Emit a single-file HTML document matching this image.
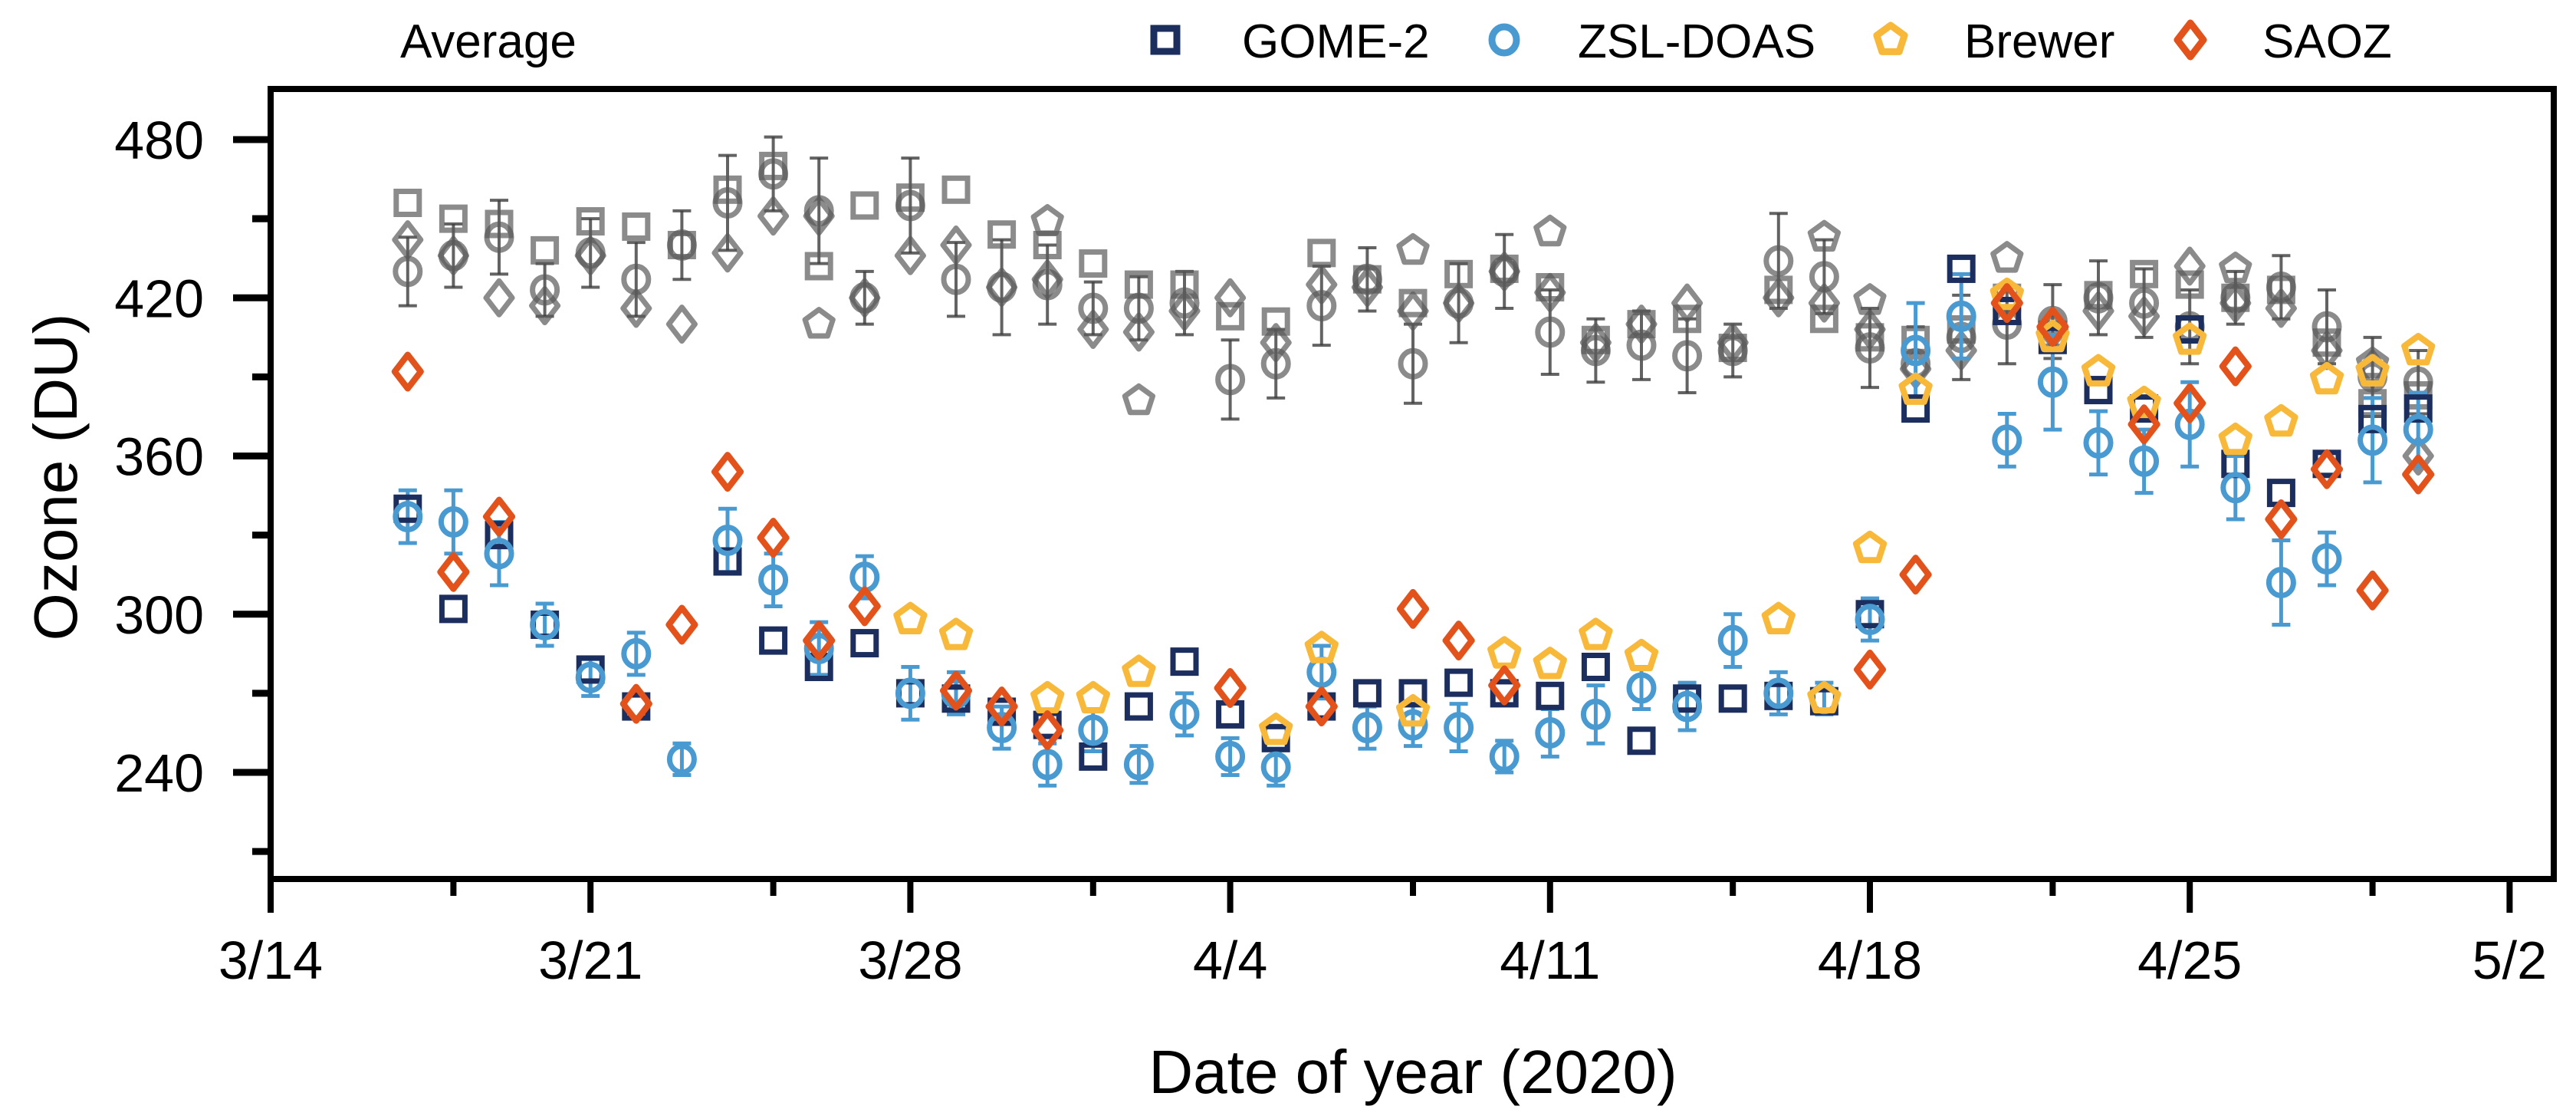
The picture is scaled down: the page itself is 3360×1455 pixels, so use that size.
<!DOCTYPE html>
<html><head><meta charset="utf-8"><style>
html,body{margin:0;padding:0;background:#fff;}
svg{display:block;font-family:"Liberation Sans",Arial,sans-serif;}
</style></head><body>
<svg id="chart" width="3360" height="1455" viewBox="0 0 3360 1455" xmlns="http://www.w3.org/2000/svg">
<rect x="0" y="0" width="3360" height="1455" fill="#fff"/>
<g id="axes"></g>
<g id="avg"></g>
<g id="marks"></g>
<rect x="353" y="116" width="2978" height="1030" fill="none" stroke="#000" stroke-width="8"/>
<text x="522" y="75" font-size="62">Average</text>
<g id="legend"></g>
<text x="1843" y="1425" font-size="80" text-anchor="middle">Date of year (2020)</text>
<text x="0" y="0" font-size="80" text-anchor="middle" transform="translate(100,622) rotate(-90)">Ozone (DU)</text>
</svg>
<script>
// ---- data ----
const xTickLabels = ["3/14","3/21","3/28","4/4","4/11","4/18","4/25","5/2"];
const yTickValues = [240,300,360,420,480];
const gomeDays = [3,4,5,6,7,8,10,11,12,13,14,15,16,17,18,19,20,21,22,23,24,25,26,27,28,29,30,31,32,33,34,35,36,37,38,39,40,41,42,43,44,45,46,47];
const gomeVals = [340,302,330,296,279,265,320,290,280,289,270,268,263,258,246,265,282,262,253,265,270,270,274,270,269,280,252,268,268,269,267,300,378,431,415,404,385,378,408,357,346,357,374,378];
const zslDays = [3,4,5,6,7,8,9,10,11,12,13,14,15,16,17,18,19,20,21,22,23,24,25,26,27,28,29,30,31,32,33,34,35,36,37,38,39,40,41,42,43,44,45,46,47];
const zslVals = [337,335,323,296,276,285,245,328,313,287,314,270,270,257,243,256,243,262,246,242,278,257,258,257,246,255,262,272,265,290,270,268,298,400,413,366,388,365,358,372,348,312,321,366,370];
const zslErr = [10,12,12,8,7,8,6,12,10,10,8,10,8,8,8,8,7,8,7,7,10,8,8,9,6,9,11,8,9,10,8,6,8,18,16,10,18,12,12,16,12,16,10,16,14];
const brewerDays = [14,15,17,18,19,22,23,25,27,28,29,30,33,34,35,36,38,39,40,41,42,43,44,45,46,47];
const brewerVals = [298,292,268,268,278,256,287,263,285,281,292,284,298,268,325,385,421,405,392,380,404,366,373,389,392,400];
const saozDays = [3,4,5,8,9,10,11,12,13,15,16,17,21,23,25,26,27,35,36,38,39,41,42,43,44,45,46,47];
const saozVals = [392,316,337,266,296,354,329,290,303,271,265,256,272,265,302,290,273,279,315,418,409,372,380,394,336,355,309,353];
const avgSqDays = [3,4,5,6,7,8,9,10,11,12,13,14,15,16,17,18,19,20,21,22,23,24,25,26,27,28,29,30,31,32,33,34,35,36,37,38,39,40,41,42,43,44,45,46,47];
const avgSqVals = [456,450,448,438,449,447,440,461,470,432,455,458,461,444,440,433,425,425,413,411,437,427,418,429,431,424,404,410,412,401,423,412,405,404,408,420,406,421,429,425,420,423,403,380,383];
const avgCiVals = [430,436,443,423,437,427,440,456,467,453,420,455,427,424,425,416,416,418,389,395,417,427,395,418,430,407,400,402,398,400,434,428,401,395,405,410,411,420,418,409,420,424,409,390,388];
const avgCiErr = [13,12,14,10,13,14,13,18,14,20,10,18,14,18,15,10,12,12,15,13,15,12,15,15,14,16,12,13,14,10,18,14,15,14,16,15,14,14,13,14,10,12,14,15,12];
const avgDiVals = [442,436,420,417,436,416,410,437,451,451,420,436,440,424,427,408,407,415,420,403,425,424,415,418,430,422,403,410,418,403,420,418,408,393,400,418,408,415,413,432,418,416,400,393,360];
const avgPeDays = [12,17,19,25,28,34,35,38,43,46];
const avgPeVals = [410,449,381,438,445,443,419,435,431,395];

// ---- axes ----
const X0=353, PXD=59.6, Y480=182, PXU=3.4375;
function xs(d){return X0+d*PXD;}
function ys(v){return Y480+(480-v)*PXU;}
const NS="http://www.w3.org/2000/svg";
function mk(tag,attrs,parent){const e=document.createElementNS(NS,tag);for(const k in attrs)e.setAttribute(k,attrs[k]);parent.appendChild(e);return e;}
const axes=document.getElementById('axes');
xTickLabels.forEach((lab,i)=>{
  const d=i*7;
  const t=mk('line',{x1:xs(d),x2:xs(d),y1:1146,y2:1190,stroke:'#000','stroke-width':8},axes);
  
  
  const tx=mk('text',{x:xs(d),y:1276,'font-size':70,'text-anchor':'middle'},axes);
  tx.textContent=lab;
  
  
  if(i<7){
    const m=mk('line',{x1:xs(d+4),x2:xs(d+4),y1:1146,y2:1168,stroke:'#000','stroke-width':8},axes);
    
    
  }
});
yTickValues.forEach(v=>{
  const t=mk('line',{x1:304,x2:353,y1:ys(v),y2:ys(v),stroke:'#000','stroke-width':9},axes);
  
  
  const tx=mk('text',{x:266,y:ys(v)+25,'font-size':70,'text-anchor':'end'},axes);
  tx.textContent=v;
  
  
  const mv=v-30;
  const m=mk('line',{x1:329,x2:353,y1:ys(mv),y2:ys(mv),stroke:'#000','stroke-width':9},axes);
  
  
});
const m450=mk('line',{x1:329,x2:353,y1:ys(450),y2:ys(450),stroke:'#000','stroke-width':9},axes);



// ---- markers ----
function shape(type,cx,cy,color,parent,sw){
  sw=sw||7;
  let e;
  if(type==='sq') e=mk('rect',{x:cx-15,y:cy-15,width:30,height:30,fill:'none',stroke:color,'stroke-width':sw},parent);
  else if(type==='ci') e=mk('ellipse',{cx:cx,cy:cy,rx:16,ry:17,fill:'none',stroke:color,'stroke-width':sw},parent);
  else if(type==='pe'){
    const pts=[];for(let k=0;k<5;k++){const a=-Math.PI/2+k*2*Math.PI/5;pts.push((cx+19*Math.cos(a)).toFixed(1)+','+(cy+19*Math.sin(a)).toFixed(1));}
    e=mk('polygon',{points:pts.join(' '),fill:'none',stroke:color,'stroke-width':sw,'stroke-linejoin':'round'},parent);
  } else e=mk('polygon',{points:`${cx},${cy-22} ${cx+17},${cy} ${cx},${cy+22} ${cx-17},${cy}`,fill:'none',stroke:color,'stroke-width':sw,'stroke-linejoin':'round'},parent);
  return e;
}
function errbar(cx,v,err,color,parent,w){
  const g=mk('g',{stroke:color,'stroke-width':w||4},parent);
  mk('line',{x1:cx,x2:cx,y1:ys(v+err),y2:ys(v-err)},g);
  mk('line',{x1:cx-12,x2:cx+12,y1:ys(v+err),y2:ys(v+err)},g);
  mk('line',{x1:cx-12,x2:cx+12,y1:ys(v-err),y2:ys(v-err)},g);
  return g;
}
const avg=document.getElementById('avg');
const gray='rgba(90,90,90,0.7)';
avgSqDays.forEach((d,i)=>{
  const eb=errbar(xs(d),avgCiVals[i],avgCiErr[i],'rgba(60,60,60,0.8)',avg,4);
  
  
});
avgSqDays.forEach((d,i)=>{
  const a=shape('sq',xs(d),ys(avgSqVals[i]),gray,avg);
  
  
  const b=shape('ci',xs(d),ys(avgCiVals[i]),gray,avg);
  
  
  const c=shape('di',xs(d),ys(avgDiVals[i]),gray,avg);
  
  
});
avgPeDays.forEach((d,i)=>{
  const p=shape('pe',xs(d),ys(avgPeVals[i]),gray,avg);
  
  
});

const marks=document.getElementById('marks');
const NAVY='#1c2e5e', BLUE='#4a9ad2', YEL='#f8b93a', RED='#e4521b';
zslDays.forEach((d,i)=>{
  const eb=errbar(xs(d),zslVals[i],zslErr[i],BLUE,marks,5);
  
  
});
gomeDays.forEach((d,i)=>{
  const e=shape('sq',xs(d),ys(gomeVals[i]),NAVY,marks);
  
  
});
zslDays.forEach((d,i)=>{
  const e=shape('ci',xs(d),ys(zslVals[i]),BLUE,marks);
  
  
});
brewerDays.forEach((d,i)=>{
  const e=shape('pe',xs(d),ys(brewerVals[i]),YEL,marks,8);
  
  
});
saozDays.forEach((d,i)=>{
  const e=shape('di',xs(d),ys(saozVals[i]),RED,marks,8);
  
  
});

// ---- legend ----
const lg=document.getElementById('legend');
const legendTypes=['sq','ci','pe','di'];
const legendColors=[NAVY,BLUE,YEL,RED];
const legendNames=['GOME-2','ZSL-DOAS','Brewer','SAOZ'];
const legendMarkX=[1520,1962,2466,2857];
const legendTextX=[1620,2058,2562,2951];
legendNames.forEach((n,i)=>{
  const s=shape(legendTypes[i],legendMarkX[i],52,legendColors[i],lg,9);
  
  
  const t=mk('text',{x:legendTextX[i],y:75,'font-size':62},lg);
  t.textContent=n;
  
  
});
</script>
</body></html>
